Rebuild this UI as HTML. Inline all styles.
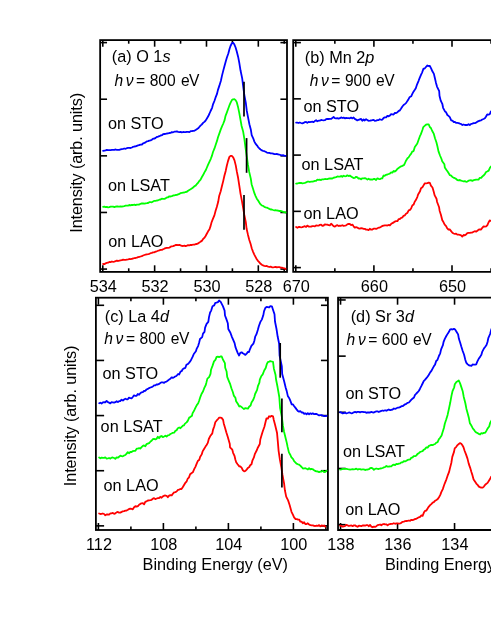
<!DOCTYPE html>
<html><head><meta charset="utf-8"><title>XPS spectra</title>
<style>
html,body{margin:0;padding:0;background:#fff;}
body{width:491px;height:635px;overflow:hidden;font-family:"Liberation Sans",sans-serif;}
svg{display:block;will-change:transform;}
</style></head><body>
<svg width="491" height="635" viewBox="0 0 491 635">
<rect x="0" y="0" width="491" height="635" fill="#ffffff"/>
<defs>
<clipPath id="ca"><rect x="100.15" y="40.1" width="186.85" height="231.8"/></clipPath>
<clipPath id="cb"><rect x="293.2" y="40.1" width="200" height="231.8"/></clipPath>
<clipPath id="cc"><rect x="95.9" y="297.7" width="232" height="232.3"/></clipPath>
<clipPath id="cd"><rect x="338.05" y="297.7" width="160" height="232.3"/></clipPath>
</defs>
<line x1="102.80" y1="40.10" x2="102.80" y2="46.70" stroke="#000" stroke-width="1.60"/>
<line x1="102.80" y1="271.90" x2="102.80" y2="265.30" stroke="#000" stroke-width="1.60"/>
<line x1="154.64" y1="40.10" x2="154.64" y2="46.70" stroke="#000" stroke-width="1.60"/>
<line x1="154.64" y1="271.90" x2="154.64" y2="265.30" stroke="#000" stroke-width="1.60"/>
<line x1="206.48" y1="40.10" x2="206.48" y2="46.70" stroke="#000" stroke-width="1.60"/>
<line x1="206.48" y1="271.90" x2="206.48" y2="265.30" stroke="#000" stroke-width="1.60"/>
<line x1="258.32" y1="40.10" x2="258.32" y2="46.70" stroke="#000" stroke-width="1.60"/>
<line x1="258.32" y1="271.90" x2="258.32" y2="265.30" stroke="#000" stroke-width="1.60"/>
<line x1="128.72" y1="40.10" x2="128.72" y2="43.70" stroke="#000" stroke-width="1.60"/>
<line x1="128.72" y1="271.90" x2="128.72" y2="268.30" stroke="#000" stroke-width="1.60"/>
<line x1="180.56" y1="40.10" x2="180.56" y2="43.70" stroke="#000" stroke-width="1.60"/>
<line x1="180.56" y1="271.90" x2="180.56" y2="268.30" stroke="#000" stroke-width="1.60"/>
<line x1="232.40" y1="40.10" x2="232.40" y2="43.70" stroke="#000" stroke-width="1.60"/>
<line x1="232.40" y1="271.90" x2="232.40" y2="268.30" stroke="#000" stroke-width="1.60"/>
<line x1="284.24" y1="40.10" x2="284.24" y2="43.70" stroke="#000" stroke-width="1.60"/>
<line x1="284.24" y1="271.90" x2="284.24" y2="268.30" stroke="#000" stroke-width="1.60"/>
<line x1="100.15" y1="42.60" x2="107.05" y2="42.60" stroke="#000" stroke-width="1.60"/>
<line x1="287.00" y1="42.60" x2="280.40" y2="42.60" stroke="#000" stroke-width="1.60"/>
<line x1="100.15" y1="99.22" x2="107.05" y2="99.22" stroke="#000" stroke-width="1.60"/>
<line x1="287.00" y1="99.22" x2="280.40" y2="99.22" stroke="#000" stroke-width="1.60"/>
<line x1="100.15" y1="155.84" x2="107.05" y2="155.84" stroke="#000" stroke-width="1.60"/>
<line x1="287.00" y1="155.84" x2="280.40" y2="155.84" stroke="#000" stroke-width="1.60"/>
<line x1="100.15" y1="212.46" x2="107.05" y2="212.46" stroke="#000" stroke-width="1.60"/>
<line x1="287.00" y1="212.46" x2="280.40" y2="212.46" stroke="#000" stroke-width="1.60"/>
<line x1="100.15" y1="269.08" x2="107.05" y2="269.08" stroke="#000" stroke-width="1.60"/>
<line x1="287.00" y1="269.08" x2="280.40" y2="269.08" stroke="#000" stroke-width="1.60"/>
<rect x="100.15" y="40.10" width="186.85" height="231.80" fill="none" stroke="#000" stroke-width="1.80"/>
<line x1="295.80" y1="40.10" x2="295.80" y2="46.70" stroke="#000" stroke-width="1.60"/>
<line x1="295.80" y1="271.90" x2="295.80" y2="265.30" stroke="#000" stroke-width="1.60"/>
<line x1="373.90" y1="40.10" x2="373.90" y2="46.70" stroke="#000" stroke-width="1.60"/>
<line x1="373.90" y1="271.90" x2="373.90" y2="265.30" stroke="#000" stroke-width="1.60"/>
<line x1="452.00" y1="40.10" x2="452.00" y2="46.70" stroke="#000" stroke-width="1.60"/>
<line x1="452.00" y1="271.90" x2="452.00" y2="265.30" stroke="#000" stroke-width="1.60"/>
<line x1="334.85" y1="40.10" x2="334.85" y2="43.70" stroke="#000" stroke-width="1.60"/>
<line x1="334.85" y1="271.90" x2="334.85" y2="268.30" stroke="#000" stroke-width="1.60"/>
<line x1="412.95" y1="40.10" x2="412.95" y2="43.70" stroke="#000" stroke-width="1.60"/>
<line x1="412.95" y1="271.90" x2="412.95" y2="268.30" stroke="#000" stroke-width="1.60"/>
<line x1="491.05" y1="40.10" x2="491.05" y2="43.70" stroke="#000" stroke-width="1.60"/>
<line x1="491.05" y1="271.90" x2="491.05" y2="268.30" stroke="#000" stroke-width="1.60"/>
<line x1="293.20" y1="42.60" x2="300.90" y2="42.60" stroke="#000" stroke-width="1.60"/>
<line x1="293.20" y1="98.85" x2="300.90" y2="98.85" stroke="#000" stroke-width="1.60"/>
<line x1="293.20" y1="155.10" x2="300.90" y2="155.10" stroke="#000" stroke-width="1.60"/>
<line x1="293.20" y1="211.35" x2="300.90" y2="211.35" stroke="#000" stroke-width="1.60"/>
<line x1="293.20" y1="267.60" x2="300.90" y2="267.60" stroke="#000" stroke-width="1.60"/>
<path d="M500.00 40.10L293.20 40.10L293.20 271.90L500.00 271.90" fill="none" stroke="#000" stroke-width="1.80"/>
<line x1="98.40" y1="297.70" x2="98.40" y2="304.70" stroke="#000" stroke-width="1.60"/>
<line x1="98.40" y1="530.00" x2="98.40" y2="523.00" stroke="#000" stroke-width="1.60"/>
<line x1="163.40" y1="297.70" x2="163.40" y2="304.70" stroke="#000" stroke-width="1.60"/>
<line x1="163.40" y1="530.00" x2="163.40" y2="523.00" stroke="#000" stroke-width="1.60"/>
<line x1="228.40" y1="297.70" x2="228.40" y2="304.70" stroke="#000" stroke-width="1.60"/>
<line x1="228.40" y1="530.00" x2="228.40" y2="523.00" stroke="#000" stroke-width="1.60"/>
<line x1="293.40" y1="297.70" x2="293.40" y2="304.70" stroke="#000" stroke-width="1.60"/>
<line x1="293.40" y1="530.00" x2="293.40" y2="523.00" stroke="#000" stroke-width="1.60"/>
<line x1="130.90" y1="297.70" x2="130.90" y2="301.30" stroke="#000" stroke-width="1.60"/>
<line x1="130.90" y1="530.00" x2="130.90" y2="526.40" stroke="#000" stroke-width="1.60"/>
<line x1="195.90" y1="297.70" x2="195.90" y2="301.30" stroke="#000" stroke-width="1.60"/>
<line x1="195.90" y1="530.00" x2="195.90" y2="526.40" stroke="#000" stroke-width="1.60"/>
<line x1="260.90" y1="297.70" x2="260.90" y2="301.30" stroke="#000" stroke-width="1.60"/>
<line x1="260.90" y1="530.00" x2="260.90" y2="526.40" stroke="#000" stroke-width="1.60"/>
<line x1="325.90" y1="297.70" x2="325.90" y2="301.30" stroke="#000" stroke-width="1.60"/>
<line x1="325.90" y1="530.00" x2="325.90" y2="526.40" stroke="#000" stroke-width="1.60"/>
<line x1="95.90" y1="305.30" x2="104.10" y2="305.30" stroke="#000" stroke-width="1.60"/>
<line x1="327.90" y1="305.30" x2="320.95" y2="305.30" stroke="#000" stroke-width="1.60"/>
<line x1="95.90" y1="360.44" x2="104.10" y2="360.44" stroke="#000" stroke-width="1.60"/>
<line x1="327.90" y1="360.44" x2="320.95" y2="360.44" stroke="#000" stroke-width="1.60"/>
<line x1="95.90" y1="415.58" x2="104.10" y2="415.58" stroke="#000" stroke-width="1.60"/>
<line x1="327.90" y1="415.58" x2="320.95" y2="415.58" stroke="#000" stroke-width="1.60"/>
<line x1="95.90" y1="470.72" x2="104.10" y2="470.72" stroke="#000" stroke-width="1.60"/>
<line x1="327.90" y1="470.72" x2="320.95" y2="470.72" stroke="#000" stroke-width="1.60"/>
<line x1="95.90" y1="525.86" x2="104.10" y2="525.86" stroke="#000" stroke-width="1.60"/>
<line x1="327.90" y1="525.86" x2="320.95" y2="525.86" stroke="#000" stroke-width="1.60"/>
<rect x="95.90" y="297.70" width="232.00" height="232.30" fill="none" stroke="#000" stroke-width="1.80"/>
<line x1="340.55" y1="297.70" x2="340.55" y2="304.70" stroke="#000" stroke-width="1.60"/>
<line x1="340.55" y1="530.00" x2="340.55" y2="523.00" stroke="#000" stroke-width="1.60"/>
<line x1="397.55" y1="297.70" x2="397.55" y2="304.70" stroke="#000" stroke-width="1.60"/>
<line x1="397.55" y1="530.00" x2="397.55" y2="523.00" stroke="#000" stroke-width="1.60"/>
<line x1="454.55" y1="297.70" x2="454.55" y2="304.70" stroke="#000" stroke-width="1.60"/>
<line x1="454.55" y1="530.00" x2="454.55" y2="523.00" stroke="#000" stroke-width="1.60"/>
<line x1="338.05" y1="299.95" x2="345.70" y2="299.95" stroke="#000" stroke-width="1.60"/>
<line x1="338.05" y1="356.13" x2="345.70" y2="356.13" stroke="#000" stroke-width="1.60"/>
<line x1="338.05" y1="412.31" x2="345.70" y2="412.31" stroke="#000" stroke-width="1.60"/>
<line x1="338.05" y1="468.49" x2="345.70" y2="468.49" stroke="#000" stroke-width="1.60"/>
<line x1="338.05" y1="524.67" x2="345.70" y2="524.67" stroke="#000" stroke-width="1.60"/>
<path d="M500.00 297.70L338.05 297.70L338.05 530.00L500.00 530.00" fill="none" stroke="#000" stroke-width="1.80"/>
<path d="M103.1 150.9L104.4 150.6L105.6 150.4L106.8 149.9L108.1 150.1L109.3 150.1L110.6 150.1L111.9 149.9L113.1 149.9L114.3 149.8L115.6 149.5L116.8 149.8L118.1 149.8L119.3 149.8L120.6 149.4L121.8 149.1L123.1 148.9L124.4 148.5L125.6 148.8L126.8 148.2L128.1 147.9L129.3 147.9L130.6 148.0L131.9 147.5L133.1 146.8L134.3 146.5L135.6 146.4L136.8 145.9L138.1 145.4L139.3 145.0L140.6 144.7L141.9 144.5L143.1 143.3L144.4 142.8L145.6 142.3L146.8 141.4L148.1 141.1L149.3 140.6L150.6 140.4L151.8 139.7L153.1 138.7L154.4 138.6L155.6 137.9L156.8 137.0L158.1 136.7L159.3 136.2L160.6 135.5L161.9 135.2L163.1 134.2L164.4 134.0L165.6 133.9L166.8 133.5L168.1 133.3L169.3 133.0L170.6 132.9L171.8 132.1L173.1 132.3L174.4 131.7L175.6 131.7L176.9 131.4L178.1 131.9L179.4 132.1L180.6 131.9L181.8 132.4L183.1 132.0L184.3 132.2L185.6 132.2L186.8 131.9L188.1 131.9L189.4 132.1L190.6 131.2L191.9 131.2L193.1 130.8L194.3 130.8L195.6 130.0L196.8 129.2L198.2 128.3L199.3 127.0L200.7 125.4L201.7 124.6L203.1 122.9L204.4 121.9L205.6 120.6L206.9 118.5L208.2 116.3L209.3 114.0L210.6 111.0L212.1 107.8L213.1 104.1L214.4 101.0L215.5 97.7L216.9 94.2L217.9 90.1L219.3 85.9L220.9 80.7L222.0 75.6L223.2 70.9L224.5 65.9L225.8 61.3L226.9 57.5L228.4 53.3L229.5 49.0L230.6 45.7L231.9 43.3L233.1 42.7L234.3 44.3L235.6 47.5L236.7 51.3L238.1 56.7L239.3 62.9L240.5 70.3L242.2 78.4L243.2 86.5L244.3 95.0L245.8 102.8L246.8 110.9L248.2 118.2L249.4 124.2L250.8 129.4L251.7 135.1L253.2 138.3L254.4 141.6L255.5 143.7L256.9 145.3L258.1 147.1L259.4 148.5L260.6 149.5L261.9 150.4L263.1 150.8L264.4 151.2L265.6 151.8L266.9 152.6L268.1 152.8L269.4 152.8L270.6 153.3L271.9 153.4L273.1 153.6L274.4 154.1L275.6 154.1L276.8 154.0L278.1 154.3L279.4 154.7L280.6 155.0L281.9 155.4L283.1 155.2L284.3 155.6L285.6 155.8" fill="none" stroke="#0000ff" stroke-width="1.80" stroke-linejoin="round" stroke-linecap="round" clip-path="url(#ca)"/>
<path d="M103.1 206.9L104.4 206.7L105.6 207.1L106.8 206.8L108.1 207.3L109.3 207.2L110.6 206.7L111.8 206.6L113.1 206.7L114.4 207.1L115.6 206.6L116.9 206.3L118.1 206.5L119.3 206.6L120.6 206.3L121.8 206.6L123.1 206.3L124.3 206.1L125.6 205.7L126.8 205.7L128.1 205.6L129.3 205.0L130.6 205.3L131.8 204.8L133.1 205.0L134.4 204.6L135.6 205.1L136.8 204.7L138.1 204.6L139.3 204.5L140.6 203.8L141.8 203.3L143.1 203.5L144.4 203.7L145.6 203.3L146.9 203.2L148.1 203.0L149.3 202.2L150.6 202.2L151.8 202.3L153.1 201.5L154.4 200.8L155.6 200.8L156.8 200.5L158.1 200.3L159.4 199.7L160.6 199.5L161.8 198.7L163.1 198.9L164.4 198.8L165.6 198.3L166.9 197.4L168.1 197.3L169.3 196.3L170.6 196.5L171.9 196.1L173.1 195.5L174.4 195.4L175.6 195.0L176.9 194.8L178.1 194.3L179.4 193.9L180.6 193.1L181.9 192.9L183.1 192.7L184.3 192.5L185.6 192.0L186.8 191.8L188.1 190.7L189.3 190.0L190.6 189.3L191.8 188.4L193.1 187.5L194.3 186.3L195.6 185.6L196.9 184.0L198.0 182.9L199.2 181.1L200.6 179.6L201.9 177.0L203.1 175.1L204.3 172.6L205.7 170.3L206.7 168.0L208.0 164.9L209.4 161.8L210.8 158.8L211.9 155.9L213.0 152.0L214.4 148.7L215.7 144.7L217.0 140.9L218.0 137.2L219.3 133.6L220.6 129.9L221.9 126.6L223.3 123.5L224.6 120.1L225.5 116.0L226.8 112.6L228.1 109.0L229.3 105.7L230.6 102.7L231.9 100.1L233.1 99.3L234.4 99.2L235.6 100.1L236.7 102.1L237.9 106.4L239.2 112.6L240.5 119.9L241.6 126.0L243.2 131.8L244.4 139.1L245.5 147.6L246.7 156.0L247.9 164.5L249.2 171.9L250.8 178.6L251.6 184.2L253.1 189.0L254.4 193.2L255.6 196.1L256.8 198.7L258.1 200.6L259.3 202.5L260.6 204.4L261.9 205.5L263.1 205.9L264.3 206.8L265.6 207.3L266.9 207.6L268.1 208.2L269.4 208.9L270.6 209.5L271.8 209.5L273.1 210.0L274.4 210.4L275.6 210.1L276.9 210.5L278.1 210.7L279.4 211.0L280.6 210.9L281.9 211.3L283.1 211.9L284.3 212.2L285.6 212.5" fill="none" stroke="#00ff00" stroke-width="1.80" stroke-linejoin="round" stroke-linecap="round" clip-path="url(#ca)"/>
<path d="M103.1 264.0L104.4 264.2L105.6 263.3L106.8 262.9L108.1 262.7L109.3 262.0L110.6 262.1L111.9 261.5L113.1 261.8L114.3 261.6L115.6 261.2L116.8 260.7L118.1 261.0L119.4 260.6L120.6 260.3L121.9 260.2L123.1 259.6L124.3 259.8L125.6 259.8L126.8 259.6L128.1 259.4L129.4 259.0L130.6 259.1L131.8 258.8L133.1 258.5L134.3 258.1L135.6 258.0L136.8 257.7L138.1 257.2L139.4 256.8L140.6 256.5L141.8 256.2L143.1 255.5L144.4 255.0L145.6 254.6L146.8 254.3L148.1 254.1L149.4 253.8L150.6 253.2L151.9 252.9L153.1 252.3L154.4 252.3L155.6 251.6L156.8 251.3L158.1 250.7L159.3 250.3L160.6 249.8L161.9 249.9L163.1 249.3L164.3 248.7L165.6 248.2L166.8 247.9L168.1 247.8L169.3 247.7L170.6 246.7L171.8 246.4L173.1 246.2L174.4 245.7L175.6 245.0L176.9 244.9L178.1 245.1L179.3 244.8L180.6 245.4L181.8 245.8L183.1 246.0L184.3 245.7L185.6 246.2L186.9 245.7L188.1 245.2L189.4 245.3L190.6 244.8L191.9 245.0L193.1 244.6L194.3 244.7L195.6 244.1L196.9 244.0L198.1 243.4L199.3 242.6L200.6 241.6L201.8 240.9L203.1 239.0L204.3 237.9L205.6 236.0L206.8 233.8L208.1 231.3L209.5 229.2L210.7 225.6L211.5 222.5L212.9 218.9L214.4 215.4L215.6 210.7L216.8 207.0L218.2 201.8L219.1 196.3L220.7 191.3L221.9 186.3L223.2 181.1L224.4 175.8L225.7 170.9L226.8 165.8L228.0 161.1L229.4 156.9L230.6 155.8L231.8 155.9L233.2 157.3L234.5 160.4L235.8 165.6L236.9 171.9L238.1 177.8L239.3 185.7L240.5 193.6L241.9 200.8L243.1 207.5L244.3 214.9L245.8 222.1L246.6 228.8L248.0 234.9L249.3 239.9L250.8 244.6L251.8 248.5L253.1 251.8L254.3 254.6L255.5 256.9L256.8 259.3L258.2 261.1L259.4 262.4L260.6 263.8L261.8 264.7L263.1 265.4L264.3 265.8L265.6 266.2L266.8 266.0L268.1 266.6L269.4 267.0L270.6 266.6L271.9 267.3L273.1 267.3L274.3 267.1L275.6 266.8L276.8 267.4L278.1 267.1L279.4 267.2L280.6 267.7L281.9 267.7L283.1 268.0L284.4 268.3L285.6 268.9" fill="none" stroke="#ff0000" stroke-width="1.80" stroke-linejoin="round" stroke-linecap="round" clip-path="url(#ca)"/>
<path d="M296.1 122.7L297.3 122.6L298.6 123.0L299.8 122.5L301.1 123.0L302.3 123.4L303.6 122.9L304.9 122.1L306.1 122.0L307.3 122.9L308.6 121.9L309.8 122.1L311.1 121.8L312.3 121.7L313.6 122.1L314.8 121.1L316.1 120.2L317.3 121.3L318.6 120.7L319.8 120.6L321.1 120.0L322.3 120.2L323.6 120.3L324.8 120.2L326.1 119.2L327.3 118.8L328.6 119.0L329.9 118.9L331.1 118.9L332.3 118.1L333.6 117.0L334.8 118.1L336.1 118.4L337.3 118.2L338.6 118.6L339.9 118.2L341.1 117.4L342.3 118.0L343.6 117.6L344.8 118.3L346.1 118.0L347.3 118.1L348.6 118.2L349.8 118.3L351.1 117.6L352.4 118.4L353.6 117.5L354.8 118.9L356.1 119.6L357.3 120.4L358.6 119.8L359.8 119.3L361.1 118.9L362.3 120.8L363.6 119.5L364.8 120.5L366.1 119.1L367.4 120.1L368.6 120.8L369.9 120.7L371.1 120.5L372.4 120.1L373.6 119.9L374.8 120.8L376.1 120.6L377.4 120.1L378.6 120.1L379.8 119.2L381.1 119.8L382.3 119.6L383.7 117.9L384.8 117.4L386.1 117.3L387.4 115.8L388.6 116.3L389.8 115.6L391.1 114.2L392.3 114.3L393.6 114.5L394.9 112.9L396.1 113.1L397.5 112.2L398.5 111.1L399.8 110.4L401.1 108.5L402.4 106.5L403.6 105.0L404.8 104.1L406.2 102.9L407.4 100.9L408.6 99.0L409.5 97.3L411.2 96.3L412.2 94.2L413.5 91.7L414.8 89.8L415.8 88.2L417.1 84.3L418.6 80.8L419.7 77.9L421.2 74.3L422.2 72.3L423.5 68.6L424.7 68.5L426.1 66.8L427.4 65.5L428.6 66.0L429.7 65.8L431.1 68.4L432.4 71.3L433.9 73.9L434.8 77.8L436.0 82.9L437.0 86.6L439.2 91.2L439.5 95.8L440.7 100.6L442.3 103.8L443.1 107.8L445.1 111.6L446.1 112.3L447.4 115.0L448.5 115.9L449.8 117.1L451.2 120.3L452.4 120.7L453.8 122.0L454.9 121.9L456.0 122.8L457.4 122.9L458.6 123.1L459.9 123.6L461.1 124.0L462.4 125.0L463.6 124.5L464.9 125.0L466.1 124.9L467.3 125.1L468.6 124.2L469.8 125.0L471.2 123.9L472.4 123.6L473.6 123.1L474.8 123.2L476.1 122.6L477.4 121.7L478.6 121.2L479.8 120.7L481.1 120.3L482.3 119.5L483.6 119.0L484.9 118.3L485.9 116.8L487.2 114.5L488.6 114.7L489.9 113.9L490.9 111.4" fill="none" stroke="#0000ff" stroke-width="1.80" stroke-linejoin="round" stroke-linecap="round" clip-path="url(#cb)"/>
<path d="M296.1 183.7L297.4 183.5L298.6 183.2L299.8 183.0L301.1 182.9L302.4 183.3L303.6 183.1L304.9 182.8L306.1 182.4L307.4 181.7L308.6 181.6L309.8 182.0L311.1 181.6L312.4 181.7L313.6 181.3L314.9 180.9L316.1 180.9L317.3 179.7L318.6 179.9L319.8 179.6L321.1 180.1L322.3 179.3L323.6 179.4L324.9 179.0L326.1 179.2L327.3 179.2L328.6 178.6L329.8 178.5L331.1 178.4L332.3 178.5L333.6 177.7L334.9 177.5L336.1 177.1L337.4 176.5L338.6 176.7L339.9 176.7L341.1 175.9L342.3 176.8L343.6 175.7L344.9 176.3L346.1 176.2L347.3 175.3L348.6 176.1L349.9 175.6L351.1 176.4L352.3 177.2L353.6 178.1L354.8 177.9L356.1 176.8L357.4 177.4L358.6 178.7L359.8 178.4L361.1 179.3L362.3 178.3L363.6 178.3L364.9 178.1L366.1 178.6L367.4 179.6L368.6 178.7L369.8 179.5L371.1 179.5L372.4 179.6L373.6 179.0L374.8 179.0L376.1 180.0L377.4 178.3L378.6 178.9L379.8 179.2L381.1 178.4L382.3 178.4L383.5 175.5L384.7 175.8L386.1 174.8L387.4 174.5L388.7 174.0L389.8 173.7L391.1 172.4L392.4 172.6L393.6 171.0L394.8 171.6L396.2 170.6L397.3 168.9L398.6 168.0L400.0 167.0L401.1 166.3L402.4 165.8L403.8 165.2L404.8 163.5L406.0 160.7L407.5 158.3L408.6 157.4L410.0 155.1L411.2 153.7L412.2 151.6L413.6 151.1L414.8 147.0L416.1 145.2L417.3 143.5L418.7 139.5L419.9 136.2L420.8 134.4L422.5 129.8L423.3 127.1L425.2 125.4L426.0 124.7L427.3 124.3L428.7 124.4L429.8 127.0L430.9 128.0L432.0 130.5L433.7 133.6L435.0 138.3L436.4 142.2L437.4 146.2L438.5 151.4L440.0 155.5L441.5 159.0L442.2 161.3L444.4 164.3L444.8 167.4L446.3 169.7L447.6 171.6L448.7 173.3L449.9 175.2L451.2 175.6L452.4 177.0L453.4 177.6L454.9 178.2L456.1 178.9L457.3 180.0L458.6 180.3L459.9 180.0L461.1 180.7L462.3 181.0L463.6 181.3L464.8 181.1L466.1 181.8L467.3 181.6L468.6 180.7L469.8 180.4L471.1 180.2L472.3 180.9L473.6 180.2L474.9 179.9L476.1 179.6L477.3 179.7L478.5 179.7L479.8 177.8L481.2 177.9L482.4 176.4L483.5 175.6L485.0 173.8L486.1 172.0L487.1 171.5L488.7 170.6L490.0 167.6L491.1 166.5" fill="none" stroke="#00ff00" stroke-width="1.80" stroke-linejoin="round" stroke-linecap="round" clip-path="url(#cb)"/>
<path d="M296.1 227.0L297.4 227.8L298.6 227.0L299.9 227.0L301.1 227.3L302.3 227.2L303.6 226.7L304.8 226.2L306.1 227.0L307.3 225.6L308.6 226.5L309.8 226.6L311.1 226.6L312.3 226.1L313.6 226.2L314.9 226.4L316.1 225.4L317.3 225.6L318.6 225.7L319.9 224.8L321.1 224.7L322.3 225.8L323.6 225.5L324.8 224.3L326.1 224.7L327.3 224.7L328.6 225.2L329.8 225.4L331.1 223.8L332.3 224.8L333.6 226.1L334.9 226.6L336.1 225.7L337.4 225.2L338.6 226.0L339.9 225.6L341.1 225.8L342.3 225.2L343.6 225.9L344.9 225.7L346.1 225.4L347.3 224.4L348.6 223.8L349.8 224.0L351.1 225.1L352.4 224.6L353.6 226.3L354.8 227.7L356.1 227.1L357.3 227.5L358.6 228.4L359.8 228.7L361.1 228.1L362.4 228.4L363.6 228.8L364.8 228.9L366.1 229.6L367.4 229.7L368.6 230.2L369.8 228.7L371.1 229.7L372.4 229.5L373.6 228.7L374.9 228.6L376.1 228.8L377.3 228.3L378.6 227.7L379.8 227.6L381.1 226.8L382.3 226.0L383.6 225.7L384.8 225.4L386.1 225.4L387.4 225.5L388.6 225.0L389.9 225.3L391.0 224.1L392.5 223.1L393.7 222.4L394.8 221.6L396.1 221.1L397.4 221.2L398.6 219.1L399.8 219.0L401.0 218.0L402.4 217.4L403.5 215.8L404.9 215.3L406.0 213.7L407.3 213.0L408.7 210.4L410.0 209.9L411.1 208.5L412.3 205.5L413.6 204.6L414.7 201.7L415.7 200.3L417.3 197.1L418.1 194.4L419.9 191.6L421.0 188.3L422.4 187.3L423.4 185.6L424.8 183.3L426.1 183.3L427.4 183.2L428.6 182.7L429.9 183.0L430.9 185.6L432.5 187.5L433.6 191.2L434.7 195.4L436.5 198.7L437.1 202.0L439.1 207.3L439.6 210.7L440.9 214.7L442.3 220.2L443.3 221.8L444.7 224.7L446.1 226.1L447.1 228.1L448.5 229.7L449.7 229.4L451.1 231.1L452.4 232.7L453.6 233.5L454.8 233.8L456.1 233.6L457.3 234.6L458.6 234.7L459.8 234.8L461.1 235.3L462.3 236.6L463.6 235.0L464.9 235.3L466.1 234.5L467.3 233.1L468.6 232.8L469.8 232.9L471.1 232.6L472.3 232.6L473.6 231.8L474.8 231.2L476.1 231.7L477.4 230.8L478.6 229.6L479.8 229.3L481.1 229.6L482.3 227.8L483.6 226.3L484.8 226.6L486.2 226.4L487.4 225.1L488.5 222.5L489.7 220.5L491.0 220.8" fill="none" stroke="#ff0000" stroke-width="1.80" stroke-linejoin="round" stroke-linecap="round" clip-path="url(#cb)"/>
<path d="M99.2 403.2L100.3 402.7L101.6 403.5L102.8 402.4L104.2 402.1L105.3 402.3L106.6 400.9L107.9 402.2L109.1 402.7L110.3 403.4L111.6 402.1L112.8 402.3L114.1 402.7L115.4 402.2L116.7 401.2L117.9 402.1L119.1 401.2L120.3 401.0L121.6 399.7L122.9 400.5L124.1 399.5L125.4 398.7L126.6 399.3L127.8 399.3L129.0 397.6L130.3 398.2L131.6 398.3L132.8 397.0L134.0 395.3L135.3 395.8L136.6 395.8L137.8 393.9L139.1 394.8L140.3 393.2L141.6 392.3L142.8 392.2L144.0 391.0L145.2 390.8L146.5 389.5L147.8 388.9L149.1 388.1L150.4 387.5L151.6 387.1L152.9 386.5L154.0 385.3L155.4 385.4L156.6 384.3L157.9 384.5L159.1 383.9L160.3 383.1L161.6 382.3L162.8 382.4L164.1 382.9L165.3 381.8L166.5 381.6L167.9 380.5L169.1 379.6L170.4 378.8L171.6 377.3L172.8 377.9L174.1 377.3L175.3 376.4L176.4 376.0L178.1 374.0L179.2 374.5L180.5 371.6L181.6 371.2L182.7 369.2L184.1 368.3L185.4 367.8L186.4 364.8L187.8 364.1L189.2 362.6L190.6 360.8L191.7 358.7L192.7 356.7L193.8 354.0L195.9 351.3L196.6 348.9L198.1 346.1L199.1 342.7L200.0 339.0L202.2 337.1L203.0 333.6L204.5 331.8L205.1 327.6L206.6 323.8L208.3 321.8L209.0 317.1L210.1 312.5L211.2 310.6L212.5 306.2L214.2 305.4L215.3 302.9L216.5 302.6L217.9 302.1L219.1 300.5L220.4 301.6L221.2 302.8L222.9 306.1L224.6 310.6L225.0 315.5L226.3 318.9L227.8 323.2L228.3 329.0L230.4 332.8L232.0 337.1L233.1 339.7L234.6 343.1L235.4 346.9L236.6 350.2L237.8 353.1L239.1 355.5L240.3 352.8L241.6 352.3L242.8 353.3L244.1 354.0L245.4 354.9L246.6 353.7L247.9 351.9L249.0 352.0L249.9 349.3L251.4 345.8L253.4 343.6L254.3 341.0L255.2 336.7L256.5 334.2L257.8 330.1L258.9 326.0L260.4 321.9L261.8 319.6L263.3 315.3L264.0 311.4L265.3 308.0L266.6 306.8L267.9 307.1L269.1 307.5L270.3 306.2L271.9 306.3L273.0 309.7L274.5 314.3L275.0 321.5L276.5 329.0L277.7 336.8L279.1 343.5L279.6 355.6L281.8 366.1L282.2 374.1L284.2 381.5L285.7 387.8L286.6 390.6L287.8 395.9L289.1 397.9L290.3 400.7L291.7 404.3L293.0 404.4L294.2 406.2L295.5 407.9L296.6 409.4L297.8 410.9L299.1 411.7L300.3 411.1L301.6 412.5L302.8 412.4L304.2 413.9L305.4 413.3L306.6 414.2L307.8 413.2L309.1 414.3L310.4 413.3L311.6 414.1L312.8 413.3L314.1 414.2L315.4 414.0L316.6 414.0L317.9 414.8L319.1 415.4L320.4 415.1L321.6 415.2L322.9 415.6L324.1 416.1L325.3 416.1L326.6 415.8" fill="none" stroke="#0000ff" stroke-width="1.80" stroke-linejoin="round" stroke-linecap="round" clip-path="url(#cc)"/>
<path d="M99.1 457.4L100.4 458.3L101.6 457.6L102.8 457.9L104.1 457.9L105.3 457.4L106.6 458.6L107.9 458.4L109.1 458.0L110.4 458.6L111.6 457.6L112.8 457.5L114.1 458.0L115.3 458.8L116.6 457.3L117.9 457.7L119.1 456.7L120.4 455.7L121.6 456.1L122.8 456.3L124.2 455.4L125.4 455.0L126.6 453.6L127.8 452.2L129.2 453.2L130.4 451.8L131.6 452.0L132.9 451.1L134.1 450.9L135.4 450.8L136.7 448.6L137.8 448.6L139.2 448.1L140.3 448.5L141.6 447.2L142.9 445.9L144.0 445.4L145.3 446.3L146.5 444.2L147.8 443.7L149.1 443.2L150.5 441.5L151.6 440.7L152.9 439.1L154.0 438.9L155.5 439.4L156.6 438.7L157.8 436.8L159.1 438.2L160.4 436.4L161.6 436.0L162.8 437.2L164.1 436.5L165.4 435.7L166.6 436.5L167.8 435.4L169.1 435.1L170.4 434.0L171.5 433.5L172.8 432.8L174.1 432.7L175.3 430.9L176.6 430.2L177.8 428.2L179.2 427.5L180.4 428.2L181.7 426.8L182.9 425.7L184.0 425.3L185.0 423.6L186.6 422.4L187.9 420.6L189.2 417.6L190.2 417.1L192.0 415.8L192.5 413.4L194.3 410.2L195.5 407.6L196.8 405.1L198.2 403.2L199.2 400.5L200.4 396.8L201.5 394.0L203.1 391.2L204.2 388.2L205.6 385.4L206.3 382.9L207.4 378.6L209.1 377.1L210.5 373.8L211.0 369.8L212.5 365.9L214.0 361.4L215.4 359.8L216.6 356.9L217.9 356.7L219.1 357.1L220.4 356.5L221.7 356.5L222.8 359.2L224.9 363.1L225.2 367.7L226.6 371.5L227.2 376.9L229.1 381.6L230.2 384.2L231.4 388.3L232.9 392.3L233.8 395.6L235.4 397.8L236.1 401.2L237.8 403.8L239.3 406.5L240.4 406.1L241.7 407.1L242.8 408.1L244.0 409.0L245.4 408.1L246.6 408.4L247.9 408.7L249.1 406.7L250.6 405.5L251.5 402.6L253.1 400.1L254.3 397.0L255.1 394.0L257.1 389.9L257.9 386.2L259.4 382.7L259.8 379.7L261.2 376.3L262.7 374.4L264.2 370.5L265.7 368.0L266.7 364.4L267.8 362.1L269.2 361.6L270.3 361.1L271.6 361.5L273.0 361.9L273.9 368.7L275.5 374.7L276.1 379.8L277.6 387.3L279.3 397.0L280.1 408.1L281.8 416.7L282.9 425.4L284.0 431.5L285.9 439.2L286.8 442.9L287.6 446.9L288.9 452.4L290.4 455.0L291.3 457.2L293.1 459.1L294.1 461.2L295.1 462.1L296.5 463.6L298.0 464.3L299.1 464.6L300.5 465.9L301.6 467.0L302.9 468.5L304.2 468.3L305.4 468.2L306.6 468.8L307.9 469.5L309.1 468.1L310.3 469.3L311.5 468.8L312.9 469.3L314.1 470.2L315.3 471.0L316.6 471.3L317.9 471.5L319.1 472.2L320.3 471.7L321.6 471.5L322.8 470.9L324.1 472.1L325.4 471.9L326.6 470.7" fill="none" stroke="#00ff00" stroke-width="1.80" stroke-linejoin="round" stroke-linecap="round" clip-path="url(#cc)"/>
<path d="M99.1 513.5L100.3 514.0L101.6 513.9L102.8 513.5L104.1 514.0L105.3 515.3L106.6 514.5L107.8 514.5L109.1 514.6L110.4 513.4L111.6 513.3L112.8 512.9L114.1 513.8L115.4 513.3L116.6 512.4L117.9 511.9L119.1 512.7L120.3 512.6L121.7 511.9L122.8 511.3L124.1 511.2L125.4 510.7L126.6 510.6L127.9 509.8L129.1 509.0L130.4 508.7L131.7 508.9L132.8 509.3L134.1 507.3L135.4 506.2L136.6 506.7L137.9 506.2L139.1 504.7L140.3 503.9L141.5 503.3L142.9 503.2L144.1 504.3L145.4 501.7L146.6 501.3L147.9 500.5L149.1 500.3L150.4 500.2L151.6 499.8L152.9 498.7L154.1 498.2L155.3 499.1L156.7 498.5L157.9 498.1L159.1 498.0L160.4 496.9L161.6 497.7L162.9 496.4L164.1 495.7L165.4 495.5L166.6 495.8L167.8 497.3L169.1 495.6L170.4 495.1L171.7 495.4L172.8 493.8L174.1 492.4L175.4 492.1L176.6 491.5L178.0 489.9L179.0 489.6L180.4 489.0L181.5 489.1L182.7 487.3L183.9 485.3L185.1 483.2L186.7 481.3L187.7 478.7L188.9 477.6L190.1 474.3L191.4 473.2L192.8 472.3L194.3 468.9L195.4 466.8L196.6 463.9L197.8 461.0L199.3 459.8L200.1 457.0L201.7 454.4L202.6 451.4L203.9 449.2L205.5 446.6L206.6 445.0L207.8 442.9L208.8 439.0L210.5 435.7L212.3 433.4L213.0 429.9L214.3 426.2L215.3 422.3L216.9 420.2L217.8 419.3L219.2 417.6L220.4 417.6L221.6 417.9L223.1 419.9L223.7 423.2L225.1 427.9L226.3 432.2L227.8 437.0L229.8 444.0L230.0 447.3L232.3 449.7L233.1 452.8L234.6 456.2L235.4 459.7L236.2 462.2L237.6 464.2L239.3 466.4L240.3 466.5L241.6 467.6L242.9 470.3L244.2 471.3L245.4 471.0L246.6 469.7L247.9 467.9L249.3 467.0L250.2 465.2L251.5 464.2L252.5 460.3L253.8 457.7L254.8 454.2L256.9 450.0L257.8 447.7L259.8 444.0L260.3 439.5L261.7 434.7L262.7 431.5L264.4 426.8L265.6 421.7L266.5 418.3L267.9 418.7L269.1 416.2L270.3 416.8L271.6 415.8L273.0 416.3L273.8 420.0L275.0 424.6L277.0 432.7L277.8 441.3L278.6 450.8L279.9 459.7L281.4 467.5L282.4 474.5L284.1 483.7L284.9 490.3L286.2 496.6L288.1 500.4L289.7 505.2L290.8 509.3L291.5 511.8L293.0 514.9L294.1 517.4L295.6 519.2L296.6 519.2L297.9 519.5L299.3 519.7L300.4 521.7L301.6 521.6L302.8 523.2L304.1 522.2L305.3 524.1L306.6 524.1L307.8 523.3L309.1 524.5L310.4 525.2L311.6 525.4L312.9 525.3L314.1 525.8L315.3 526.0L316.6 525.6L317.9 525.9L319.1 525.1L320.3 526.4L321.6 525.4L322.8 525.9L324.1 525.5L325.3 526.7" fill="none" stroke="#ff0000" stroke-width="1.80" stroke-linejoin="round" stroke-linecap="round" clip-path="url(#cc)"/>
<path d="M340.1 412.2L341.4 412.6L342.6 413.4L343.8 413.2L345.1 412.6L346.4 413.4L347.6 413.0L348.9 412.5L350.1 412.7L351.3 413.3L352.6 413.1L353.8 412.3L355.1 411.9L356.4 412.5L357.6 411.8L358.8 411.9L360.1 412.4L361.4 411.8L362.6 411.8L363.9 412.2L365.1 412.1L366.4 412.8L367.6 412.3L368.8 412.5L370.1 412.5L371.3 411.9L372.6 412.3L373.9 412.5L375.1 411.8L376.3 411.4L377.6 411.4L378.8 412.0L380.1 411.4L381.4 410.9L382.6 410.5L383.8 410.8L385.1 410.2L386.3 410.8L387.6 410.1L388.8 409.5L390.1 410.2L391.3 409.8L392.6 409.5L393.9 408.5L395.1 408.8L396.3 408.3L397.6 407.7L398.8 407.6L400.1 407.2L401.4 406.2L402.6 406.2L403.8 405.3L405.1 404.3L406.3 403.8L407.5 402.9L408.9 402.5L410.1 401.1L411.4 399.7L412.7 398.5L414.0 397.5L414.9 395.1L416.4 393.5L417.7 392.2L418.9 390.7L420.0 388.7L421.3 386.2L422.6 383.5L423.7 381.1L424.9 379.9L426.4 378.1L427.7 376.5L428.7 375.0L430.2 372.4L431.2 371.2L432.6 368.6L433.7 366.6L435.1 364.4L436.2 361.0L437.5 359.8L438.9 356.0L440.2 353.3L441.1 349.4L442.9 345.2L443.6 341.8L444.8 338.8L446.3 336.0L447.9 333.4L448.8 332.1L450.0 329.6L451.3 329.1L452.6 329.5L453.9 328.8L455.1 329.6L456.5 331.7L458.1 334.4L458.9 338.8L460.2 342.8L461.3 346.6L462.7 351.0L464.1 354.8L465.2 359.4L466.2 362.6L467.7 364.4L468.9 365.3L470.1 365.5L471.4 365.9L472.6 364.5L473.8 364.6L475.1 364.7L476.2 364.3L477.5 361.2L478.7 358.8L480.1 356.9L481.4 354.8L482.3 351.6L484.0 348.3L485.1 347.0L486.5 345.0L487.5 342.0L488.3 338.2L490.1 334.0L491.4 329.0" fill="none" stroke="#0000ff" stroke-width="1.80" stroke-linejoin="round" stroke-linecap="round" clip-path="url(#cd)"/>
<path d="M340.1 469.6L341.4 469.3L342.6 468.8L343.8 468.8L345.1 468.8L346.4 468.8L347.6 469.2L348.9 469.4L350.1 469.6L351.4 469.4L352.6 469.2L353.8 469.4L355.1 469.2L356.3 468.7L357.6 469.5L358.9 469.2L360.1 469.1L361.3 469.6L362.6 469.4L363.8 469.4L365.1 470.0L366.4 469.7L367.6 469.5L368.9 469.2L370.1 468.2L371.3 467.8L372.6 468.4L373.9 469.8L375.1 468.9L376.4 468.5L377.6 468.8L378.8 469.0L380.1 468.5L381.4 468.3L382.6 468.0L383.9 467.4L385.1 467.0L386.4 466.0L387.6 466.6L388.9 466.5L390.1 466.3L391.3 466.4L392.6 465.2L393.9 464.7L395.1 465.2L396.4 463.9L397.6 464.1L398.9 463.7L400.2 463.4L401.3 462.4L402.6 462.4L403.8 461.2L405.1 461.4L406.4 460.7L407.6 459.9L408.9 459.6L410.1 459.4L411.2 457.8L412.6 457.3L413.7 456.1L415.1 456.2L416.4 455.4L417.6 453.9L418.8 453.2L420.1 452.0L421.4 451.5L422.6 451.1L423.8 449.7L425.1 448.9L426.4 447.3L427.6 447.7L428.9 445.9L430.1 445.4L431.4 444.8L432.6 445.1L433.8 444.5L435.1 444.0L436.3 442.7L437.6 442.1L438.9 439.1L439.9 438.1L441.6 435.6L442.4 432.7L443.9 428.0L444.8 423.7L446.2 419.5L447.6 414.9L449.0 408.5L450.2 402.8L451.5 395.6L452.5 391.2L454.2 387.3L454.8 384.3L456.4 382.0L457.6 381.3L458.8 380.5L460.1 383.4L461.1 386.4L462.7 391.2L463.7 396.7L465.3 403.0L466.4 408.7L467.7 413.6L468.9 418.1L469.9 423.3L471.5 425.8L472.7 428.2L473.8 429.6L475.0 431.3L476.3 432.5L477.6 433.1L478.8 433.9L480.1 434.5L481.3 433.2L482.6 433.5L483.8 432.9L485.1 432.8L486.2 431.2L487.7 428.3L489.2 426.5L490.1 423.0L491.7 420.3" fill="none" stroke="#00ff00" stroke-width="1.80" stroke-linejoin="round" stroke-linecap="round" clip-path="url(#cd)"/>
<path d="M340.1 525.6L341.3 525.9L342.6 526.6L343.9 526.3L345.1 526.0L346.3 524.9L347.6 525.4L348.9 526.0L350.1 525.6L351.4 525.5L352.6 526.1L353.9 525.4L355.1 525.4L356.3 526.1L357.6 526.8L358.9 525.7L360.1 525.9L361.4 526.1L362.6 525.5L363.9 525.3L365.1 525.7L366.4 525.1L367.6 525.1L368.9 526.2L370.1 524.9L371.3 526.6L372.6 527.3L373.9 526.6L375.1 526.9L376.4 526.2L377.6 525.1L378.9 524.8L380.1 524.5L381.3 525.3L382.6 524.3L383.8 524.0L385.1 524.3L386.3 524.3L387.6 525.4L388.8 524.4L390.1 524.0L391.4 523.9L392.6 523.8L393.8 523.2L395.1 523.8L396.3 523.4L397.6 523.3L398.9 523.6L400.1 523.3L401.3 522.8L402.6 521.8L403.9 521.6L405.1 521.2L406.4 521.0L407.6 520.9L408.9 520.5L410.1 520.8L411.4 519.8L412.6 520.2L413.8 519.7L415.0 519.0L416.3 518.8L417.6 518.0L418.8 517.3L420.1 516.9L421.4 515.4L422.6 515.9L423.9 512.6L425.1 510.8L426.4 510.5L427.6 508.5L428.7 506.8L430.1 505.2L431.3 504.1L432.7 502.6L433.8 502.2L435.0 500.8L436.5 499.9L437.7 499.1L439.0 497.3L440.3 494.9L441.3 492.1L442.8 489.1L443.9 485.8L444.8 483.3L446.4 479.3L447.6 475.7L449.0 472.2L450.0 468.1L451.3 463.0L452.3 456.9L454.0 451.9L454.7 448.3L456.3 446.8L457.5 445.1L458.8 444.0L460.1 443.1L461.3 443.7L462.4 445.3L463.5 447.2L464.6 450.7L466.1 454.6L467.5 458.6L468.7 463.6L470.1 467.6L471.4 472.0L472.5 475.4L473.6 479.5L475.0 481.6L476.3 483.6L477.8 485.1L478.9 486.6L480.1 487.3L481.3 487.5L482.7 487.6L483.9 486.6L485.2 484.7L486.4 483.8L487.6 482.9L488.9 480.8L490.0 479.1L491.2 476.6" fill="none" stroke="#ff0000" stroke-width="1.80" stroke-linejoin="round" stroke-linecap="round" clip-path="url(#cd)"/>
<line x1="244.0" y1="81.8" x2="244.0" y2="116.4" stroke="#000" stroke-width="1.7"/>
<line x1="246.6" y1="138.1" x2="246.6" y2="172.8" stroke="#000" stroke-width="1.7"/>
<line x1="244.0" y1="195.1" x2="244.0" y2="229.7" stroke="#000" stroke-width="1.7"/>
<line x1="280.2" y1="343.0" x2="280.2" y2="377.7" stroke="#000" stroke-width="1.7"/>
<line x1="281.9" y1="398.6" x2="281.9" y2="432.2" stroke="#000" stroke-width="1.7"/>
<line x1="281.9" y1="453.8" x2="281.9" y2="487.6" stroke="#000" stroke-width="1.7"/>
<g font-family="Liberation Sans, sans-serif" font-size="16.25" fill="#000">
<text x="103.3" y="291.8" text-anchor="middle" >534</text>
<text x="155.1" y="291.8" text-anchor="middle" >532</text>
<text x="207.0" y="291.8" text-anchor="middle" >530</text>
<text x="258.8" y="291.8" text-anchor="middle" >528</text>
<text x="296.3" y="291.8" text-anchor="middle" >670</text>
<text x="374.4" y="291.8" text-anchor="middle" >660</text>
<text x="452.5" y="291.8" text-anchor="middle" >650</text>
<text x="99.0" y="550.1" text-anchor="middle" >112</text>
<text x="163.7" y="550.1" text-anchor="middle" >108</text>
<text x="228.7" y="550.1" text-anchor="middle" >104</text>
<text x="293.7" y="550.1" text-anchor="middle" >100</text>
<text x="340.9" y="550.1" text-anchor="middle" >138</text>
<text x="397.9" y="550.1" text-anchor="middle" >136</text>
<text x="454.9" y="550.1" text-anchor="middle" >134</text>
<text x="111.8" y="61.9" text-anchor="start" >(a) O 1<tspan font-style="italic">s</tspan></text>
<text y="86.2" font-size="15.60"><tspan x="114.50" font-style="italic">h</tspan><tspan x="125.80" font-style="italic">&#957;</tspan><tspan x="136.10">=</tspan><tspan x="149.70">800</tspan><tspan x="180.90">e</tspan><tspan dx="-0.5">V</tspan></text>
<text x="304.8" y="62.7" text-anchor="start" >(b) Mn 2<tspan font-style="italic">p</tspan></text>
<text y="86.4" font-size="15.60"><tspan x="309.70" font-style="italic">h</tspan><tspan x="321.00" font-style="italic">&#957;</tspan><tspan x="331.30">=</tspan><tspan x="344.90">900</tspan><tspan x="376.10">e</tspan><tspan dx="-0.5">V</tspan></text>
<text x="104.8" y="321.5" text-anchor="start" >(c) La 4<tspan font-style="italic">d</tspan></text>
<text y="343.7" font-size="15.60"><tspan x="104.30" font-style="italic">h</tspan><tspan x="115.60" font-style="italic">&#957;</tspan><tspan x="125.90">=</tspan><tspan x="139.50">800</tspan><tspan x="170.70">e</tspan><tspan dx="-0.5">V</tspan></text>
<text x="350.7" y="321.5" text-anchor="start" >(d) Sr 3<tspan font-style="italic">d</tspan></text>
<text y="344.8" font-size="15.60"><tspan x="346.60" font-style="italic">h</tspan><tspan x="357.90" font-style="italic">&#957;</tspan><tspan x="368.20">=</tspan><tspan x="381.80">600</tspan><tspan x="413.00">e</tspan><tspan dx="-0.5">V</tspan></text>
<text x="107.9" y="129.1" text-anchor="start" >on STO</text>
<text x="107.9" y="190.8" text-anchor="start" >on LSAT</text>
<text x="108.3" y="247.1" text-anchor="start" >on LAO</text>
<text x="303.4" y="111.8" text-anchor="start" >on STO</text>
<text x="301.5" y="170.3" text-anchor="start" >on LSAT</text>
<text x="303.5" y="219.1" text-anchor="start" >on LAO</text>
<text x="102.5" y="378.8" text-anchor="start" >on STO</text>
<text x="100.6" y="431.5" text-anchor="start" >on LSAT</text>
<text x="103.5" y="490.9" text-anchor="start" >on LAO</text>
<text x="345.4" y="398.5" text-anchor="start" >on STO</text>
<text x="342.9" y="456.8" text-anchor="start" >on LSAT</text>
<text x="345.2" y="515.3" text-anchor="start" >on LAO</text>
<text x="215.3" y="569.6" text-anchor="middle" >Binding Energy (eV)</text>
<text x="385.0" y="569.5" text-anchor="start" >Binding Energy (eV)</text>
<text transform="translate(81.7 162.9) rotate(-90)" text-anchor="middle" letter-spacing="-0.14">Intensity (arb. units)</text>
<text transform="translate(76.4 415.9) rotate(-90)" text-anchor="middle" letter-spacing="-0.1">Intensity (arb. units)</text>
</g>
</svg>
</body></html>
